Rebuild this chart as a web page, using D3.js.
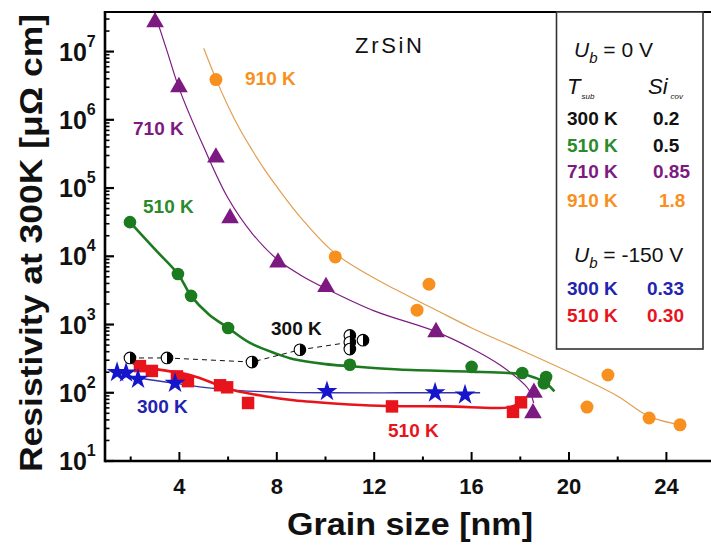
<!DOCTYPE html>
<html>
<head>
<meta charset="utf-8">
<script src="https://cdn.jsdelivr.net/npm/d3@7/dist/d3.min.js"></script>
<style>
  html, body { margin: 0; padding: 0; background: #fff; }
  svg { display: block; font-family: "Liberation Sans", Arial, sans-serif; }
</style>
</head>
<body>
<svg id="chart" width="711" height="545"></svg>
<script>
// ---- Measured series (grain size in nm, log10 of resistivity in µΩ cm) ----
// Ub = 0 V, Tsub = 910 K (circles)
const s910x = [5.5, 10.4, 14.25, 13.76, 21.6, 20.74, 23.29, 24.56];
const s910y = [6.59, 3.99, 3.59, 3.21, 2.26, 1.79, 1.63, 1.53];
const fit910x = [5.0, 5.5, 6.0, 6.5, 7.0, 7.5, 8.0, 9.0, 10.4, 12.2, 13.0, 14.5, 16.0, 18.0, 20.5, 22.0, 23.3, 24.6];
const fit910y = [7.05, 6.6, 6.2, 5.85, 5.55, 5.27, 5.02, 4.56, 4.04, 3.64, 3.49, 3.22, 2.95, 2.63, 2.22, 1.95, 1.65, 1.53];

// Ub = 0 V, Tsub = 710 K (triangles)
const s710x = [3.0, 3.98, 5.5, 6.08, 8.05, 10.02, 14.54, 18.56, 18.52];
const s710y = [7.43, 6.48, 5.45, 4.56, 3.91, 3.55, 2.89, 2.0, 1.7];
const fit710x = [2.95, 3.5, 4.0, 5.0, 6.0, 7.0, 8.0, 9.0, 10.0, 12.0, 14.5, 16.0, 17.2, 18.3, 18.55];
const fit710y = [7.6, 7.0, 6.45, 5.6, 4.85, 4.33, 3.96, 3.72, 3.53, 3.2, 2.9, 2.65, 2.4, 2.07, 1.85];

// Ub = 0 V, Tsub = 510 K (circles)
const s510x = [1.97, 3.94, 4.48, 6.0, 11.0, 16.0, 18.08, 19.06, 18.97];
const s510y = [4.5, 3.74, 3.42, 2.95, 2.41, 2.38, 2.29, 2.23, 2.14];
const fit510x = [1.97, 3.0, 3.94, 4.48, 5.2, 6.0, 6.9, 8.0, 8.7, 10.0, 11.0, 13.0, 16.0, 17.5, 18.1, 18.6, 19.0, 19.4];
const fit510y = [4.5, 4.1, 3.74, 3.42, 3.15, 2.95, 2.73, 2.57, 2.49, 2.42, 2.39, 2.34, 2.31, 2.29, 2.27, 2.22, 2.16, 2.02];

// Ub = 0 V, Tsub = 300 K (half-filled circles, dashed guide)
const s300x = [1.97, 3.49, 6.98, 8.95, 11.0, 11.0, 11.0, 11.54];
const s300y = [2.51, 2.51, 2.45, 2.63, 2.84, 2.74, 2.64, 2.77];
const guide300x = [1.97, 3.49, 6.98, 8.95, 11.0];
const guide300y = [2.51, 2.51, 2.45, 2.63, 2.74];

// Ub = -150 V, Tsub = 300 K (stars)
const sB300x = [1.44, 1.81, 2.3, 3.82, 10.06, 14.5, 15.73];
const sB300y = [2.3, 2.29, 2.2, 2.14, 2.02, 2.0, 1.97];
const fitB300x = [1.44, 2.3, 3.8, 5.0, 6.5, 8.0, 10.0, 13.0, 16.35];
const fitB300y = [2.3, 2.22, 2.14, 2.08, 2.03, 2.01, 2.0, 2.0, 2.0];

// Ub = -150 V, Tsub = 510 K (squares)
const sB510x = [2.38, 2.87, 3.9, 4.35, 5.67, 5.96, 6.82, 12.73, 17.7, 18.03];
const sB510y = [2.39, 2.32, 2.24, 2.17, 2.11, 2.08, 1.85, 1.8, 1.72, 1.86];
const fitB510x = [2.09, 3.0, 4.43, 6.2, 7.5, 8.7, 10.5, 12.2, 15.0, 17.6, 18.0];
const fitB510y = [2.43, 2.35, 2.26, 2.04, 1.95, 1.89, 1.84, 1.81, 1.8, 1.79, 1.86];

// Axis ticks
const xMajor = [4, 8, 12, 16, 20, 24];
const xMinor = [2, 6, 10, 14, 18, 22, 26];
const yDecades = [1, 2, 3, 4, 5, 6, 7];

// Legend rows
const legendTop = [["300 K", "0.2"], ["510 K", "0.5"], ["710 K", "0.85"], ["910 K", "1.8"]];
const legendBottom = [["300 K", "0.33"], ["510 K", "0.30"]];

const C = {
  orange: "#f7901e", orangeLine: "#e0a050",
  purple: "#7d1a82", green: "#1c7a1f", greenText: "#2b8a2b",
  blue: "#1515cc", blueText: "#2323b0", blueLine: "#3535a5",
  red: "#e8141c", black: "#111"
};

const svg = d3.select("#chart");
const plotLeft = 105, plotTop = 12, plotBottom = 461;

const x = d3.scaleLinear().domain([(105 - 82) / 24.35, (730 - 82) / 24.35]).range([105, 730]);
const y = d3.scaleLog().domain([10, Math.pow(10, 7.58)]).range([plotBottom, plotTop]);
const Y = v => y(Math.pow(10, v));

const zip = (xs, ys) => xs.map((d, i) => [d, ys[i]]);
const line = (curve) => d3.line().x(d => x(d[0])).y(d => Y(d[1])).curve(curve);

const plot = svg.append("g");

// fitted curves
plot.append("path").datum(zip(fit910x, fit910y)).attr("d", line(d3.curveCatmullRom)).attr("fill", "none").attr("stroke", C.orangeLine).attr("stroke-width", 1.2);
plot.append("path").datum(zip(fit710x, fit710y)).attr("d", line(d3.curveCatmullRom)).attr("fill", "none").attr("stroke", C.purple).attr("stroke-width", 1.2);
plot.append("path").datum(zip(fit510x, fit510y)).attr("d", line(d3.curveCatmullRom)).attr("fill", "none").attr("stroke", C.green).attr("stroke-width", 2.6);
plot.append("path").datum(zip(guide300x, guide300y)).attr("d", line(d3.curveLinear)).attr("fill", "none").attr("stroke", C.black).attr("stroke-width", 1).attr("stroke-dasharray", "5,4");
plot.append("path").datum(zip(fitB300x, fitB300y)).attr("d", line(d3.curveCatmullRom)).attr("fill", "none").attr("stroke", C.blueLine).attr("stroke-width", 1.3);
plot.append("path").datum(zip(fitB510x, fitB510y)).attr("d", line(d3.curveCatmullRom)).attr("fill", "none").attr("stroke", C.red).attr("stroke-width", 2.6);

// markers
const sym = (type, size) => d3.symbol().type(type).size(size);

plot.selectAll(".c910").data(zip(s910x, s910y)).join("circle")
  .attr("cx", d => x(d[0])).attr("cy", d => Y(d[1])).attr("r", 6.5).attr("fill", C.orange);

plot.selectAll(".c510").data(zip(s510x, s510y)).join("circle")
  .attr("cx", d => x(d[0])).attr("cy", d => Y(d[1])).attr("r", 6.3).attr("fill", C.green);

plot.selectAll(".t710").data(zip(s710x, s710y)).join("path")
  .attr("transform", d => `translate(${x(d[0])},${Y(d[1])})`)
  .attr("d", sym(d3.symbolTriangle, 135)).attr("fill", C.purple);

plot.selectAll(".sq").data(zip(sB510x, sB510y)).join("path")
  .attr("transform", d => `translate(${x(d[0])},${Y(d[1])})`)
  .attr("d", sym(d3.symbolSquare, 155)).attr("fill", C.red);

plot.selectAll(".st").data(zip(sB300x, sB300y)).join("path")
  .attr("transform", d => `translate(${x(d[0])},${Y(d[1])})`)
  .attr("d", sym(d3.symbolStar, 135)).attr("fill", C.blue);

// half-filled circles: white left half, black right half
const half = plot.selectAll(".h300").data(zip(s300x, s300y)).join("g")
  .attr("transform", d => `translate(${x(d[0])},${Y(d[1])})`);
const r300 = 5.8;
half.append("circle").attr("r", r300).attr("fill", "#fff").attr("stroke", "#000").attr("stroke-width", 1.1);
half.append("path").attr("d", d3.arc()({ innerRadius: 0, outerRadius: r300, startAngle: 0, endAngle: Math.PI })).attr("fill", "#000");

// axes
const axes = svg.append("g");
axes.append("line").attr("x1", plotLeft).attr("x2", 711).attr("y1", plotTop).attr("y2", plotTop).attr("stroke", "#000").attr("stroke-width", 2.2);
axes.append("line").attr("x1", plotLeft).attr("x2", 711).attr("y1", plotBottom).attr("y2", plotBottom).attr("stroke", "#000").attr("stroke-width", 2.6);
axes.append("line").attr("x1", plotLeft).attr("x2", plotLeft).attr("y1", plotTop - 1).attr("y2", plotBottom + 1.3).attr("stroke", "#000").attr("stroke-width", 2.6);

axes.selectAll(".xt").data(xMajor).join("line")
  .attr("x1", d => x(d)).attr("x2", d => x(d)).attr("y1", plotBottom).attr("y2", plotBottom - 9)
  .attr("stroke", "#000").attr("stroke-width", 2);
axes.selectAll(".xm").data(xMinor).join("line")
  .attr("x1", d => x(d)).attr("x2", d => x(d)).attr("y1", plotBottom).attr("y2", plotBottom - 4.5)
  .attr("stroke", "#000").attr("stroke-width", 2);
axes.selectAll(".xl").data(xMajor).join("text")
  .attr("x", d => x(d)).attr("y", 494).attr("text-anchor", "middle")
  .attr("font-size", 22).attr("font-weight", "bold").attr("fill", "#111").text(d => d);

// y ticks: decade marks and minors
const yMinor = [];
for (let e = 1; e <= 7; e++) for (let m = 2; m <= 9; m++) {
  const v = m * Math.pow(10, e);
  if (Math.log10(v) <= 7.58) yMinor.push(v);
}
axes.selectAll(".ym").data(yMinor).join("line")
  .attr("x1", plotLeft).attr("x2", plotLeft + 4.5).attr("y1", d => y(d)).attr("y2", d => y(d))
  .attr("stroke", "#000").attr("stroke-width", 1.6);
axes.selectAll(".yt").data(yDecades).join("line")
  .attr("x1", plotLeft).attr("x2", plotLeft + 9).attr("y1", d => y(Math.pow(10, d))).attr("y2", d => y(Math.pow(10, d)))
  .attr("stroke", "#000").attr("stroke-width", 2.2);
const yl = axes.selectAll(".yl").data(yDecades).join("text")
  .attr("x", 59).attr("y", d => y(Math.pow(10, d)) + 9)
  .attr("font-size", 25).attr("font-weight", "bold").attr("fill", "#111");
yl.append("tspan").text("10");
yl.append("tspan").attr("font-size", 16).attr("dy", -14).text(d => d);

// axis titles
svg.append("text").attr("x", 410).attr("y", 535).attr("text-anchor", "middle")
  .attr("font-size", 31).attr("font-weight", "bold").attr("fill", "#111")
  .attr("textLength", 246).attr("lengthAdjust", "spacingAndGlyphs")
  .text("Grain size [nm]");
svg.append("text").attr("transform", "translate(42,243) rotate(-90)").attr("text-anchor", "middle")
  .attr("font-size", 31).attr("font-weight", "bold").attr("fill", "#111")
  .attr("textLength", 458).attr("lengthAdjust", "spacingAndGlyphs")
  .text("Resistivity at 300K [μΩ cm]");

// in-plot labels
const lab = (tx, ty, t, col, opts = {}) => svg.append("text").attr("x", tx).attr("y", ty)
  .attr("font-size", opts.size || 19).attr("font-weight", opts.weight || "bold").attr("fill", col).text(t);
lab(355, 53, "ZrSiN", "#111", { size: 22, weight: "normal" }).attr("textLength", 67);
lab(245, 85, "910 K", C.orange);
lab(133, 135, "710 K", C.purple);
lab(143, 213, "510 K", C.greenText);
lab(271, 335, "300 K", "#111");
lab(137, 413, "300 K", C.blueText);
lab(388, 437, "510 K", C.red);

// legend box
const lg = svg.append("g");
lg.append("rect").attr("x", 556.5).attr("y", 12).attr("width", 146.5).attr("height", 337)
  .attr("fill", "#fff").attr("stroke", "#333").attr("stroke-width", 1.6);

const ub = (ty, rest) => {
  const t = lg.append("text").attr("x", 574).attr("y", ty).attr("font-size", 21).attr("fill", "#111");
  t.append("tspan").attr("font-style", "italic").text("U");
  t.append("tspan").attr("font-style", "italic").attr("font-size", 15).attr("dy", 6).text("b");
  t.append("tspan").attr("dy", -6).text(" = " + rest);
};
ub(57, "0 V");
ub(262, "-150 V");

const th = lg.append("text").attr("x", 567).attr("y", 94).attr("font-size", 22).attr("fill", "#111");
th.append("tspan").attr("font-style", "italic").text("T");
th.append("tspan").attr("font-style", "italic").attr("font-size", 8).attr("dy", 5).attr("dx", 1).text("sub");
const sh = lg.append("text").attr("x", 648).attr("y", 94).attr("font-size", 22).attr("fill", "#111");
sh.append("tspan").attr("font-style", "italic").text("Si");
sh.append("tspan").attr("font-style", "italic").attr("font-size", 8).attr("dy", 5).attr("dx", 3).text("cov");

const topCols = ["#111", C.greenText, C.purple, C.orange];
const topValCols = ["#111", "#111", C.purple, C.orange];
const topBase = [125, 152, 178, 207];
const topValX = [653, 653, 653, 659];
legendTop.forEach((r, i) => {
  lg.append("text").attr("x", 567).attr("y", topBase[i]).attr("font-size", 19).attr("font-weight", "bold").attr("fill", topCols[i]).text(r[0]);
  lg.append("text").attr("x", topValX[i]).attr("y", topBase[i]).attr("font-size", 19).attr("font-weight", "bold").attr("fill", topValCols[i]).text(r[1]);
});
const botCols = [C.blueText, C.red];
const botBase = [295, 322];
legendBottom.forEach((r, i) => {
  lg.append("text").attr("x", 567).attr("y", botBase[i]).attr("font-size", 19).attr("font-weight", "bold").attr("fill", botCols[i]).text(r[0]);
  lg.append("text").attr("x", 647).attr("y", botBase[i]).attr("font-size", 19).attr("font-weight", "bold").attr("fill", botCols[i]).text(r[1]);
});
</script>
</body>
</html>
